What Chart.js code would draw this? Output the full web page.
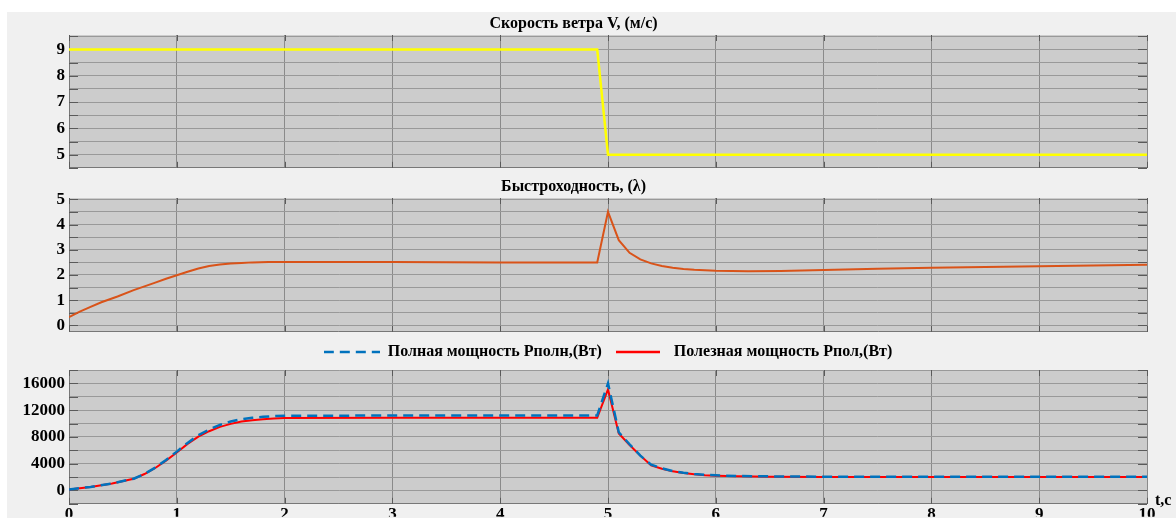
<!DOCTYPE html>
<html>
<head>
<meta charset="utf-8">
<script src="https://cdn.jsdelivr.net/npm/chart.js@4.4.1/dist/chart.umd.min.js"></script>
<style>
    body { margin: 0; background: #fff; width: 1176px; height: 518px; overflow: hidden; position: relative; }
    #panel { position: absolute; left: 7px; top: 12px; width: 1169px; height: 506px; background: #f0f0f0; }
    .box { position: absolute; left: 0; width: 1176px; }
</style>
</head>
<body>
<div id="panel"></div>
<div class="box" style="top:12px;height:170px"><canvas id="windChart"></canvas></div>
<div class="box" style="top:176px;height:170px"><canvas id="lambdaChart"></canvas></div>
<div class="box" style="top:336px;height:182px"><canvas id="powerChart"></canvas></div>
<script>
// ---------------- DATA ----------------
const timeTicks = [0, 1, 2, 3, 4, 5, 6, 7, 8, 9, 10];

// wind speed V, m/s
const windTime = [0, 4.9, 5.0, 10];
const windSpeed = [9, 9, 5, 5];
const windTicks = [4.5, 5, 5.5, 6, 6.5, 7, 7.5, 8, 8.5, 9, 9.5];

// tip speed ratio (lambda)
const lambdaTime = [0, 0.1, 0.2, 0.3, 0.45, 0.6, 0.8, 0.9, 1.0, 1.1, 1.2, 1.3, 1.4, 1.5, 1.6, 1.7, 1.85, 2.0, 3, 4, 4.9,
    5.0, 5.1, 5.2, 5.3, 5.4, 5.5, 5.6, 5.7, 5.8, 5.9, 6.0, 6.3, 6.6, 7.0, 7.5, 8, 8.5, 9, 9.5, 10];
const lambdaValue = [0.33, 0.55, 0.74, 0.92, 1.15, 1.4, 1.7, 1.85, 1.99, 2.13, 2.26, 2.36, 2.42, 2.46, 2.48, 2.5, 2.51, 2.51, 2.51, 2.5, 2.5,
    4.5, 3.38, 2.88, 2.62, 2.46, 2.36, 2.29, 2.24, 2.21, 2.19, 2.17, 2.15, 2.16, 2.2, 2.25, 2.29, 2.32, 2.35, 2.38, 2.41];
const lambdaTicks = [0, 0.5, 1, 1.5, 2, 2.5, 3, 3.5, 4, 4.5, 5];

// power, W
const powerTime = [0, 0.2, 0.4, 0.6, 0.7, 0.8, 0.9, 1.0, 1.1, 1.2, 1.3, 1.4, 1.5, 1.6, 1.7, 1.8, 1.9, 2.0, 3, 4, 4.9,
    5.0, 5.1, 5.2, 5.3, 5.4, 5.5, 5.6, 5.7, 5.8, 5.9, 6.0, 6.2, 6.5, 7, 8, 9, 10];
const powerFull = [150, 520, 1050, 1750, 2450, 3400, 4550, 5800, 7100, 8250, 9100, 9800, 10300, 10650, 10850, 11000, 11100, 11150, 11200, 11200, 11200,
    16000, 8700, 6900, 5200, 3850, 3300, 2900, 2650, 2450, 2330, 2250, 2150, 2100, 2050, 2050, 2050, 2050];
const powerUseful = [150, 520, 1050, 1730, 2450, 3350, 4450, 5670, 6950, 8050, 8850, 9500, 9950, 10300, 10500, 10650, 10750, 10830, 10850, 10850, 10850,
    15100, 8500, 6800, 5200, 3750, 3250, 2850, 2600, 2400, 2280, 2200, 2100, 2050, 2000, 2000, 2000, 2000];
const powerTicks = [-2000, 0, 2000, 4000, 6000, 8000, 10000, 12000, 14000, 16000, 18000];

const serif = "'Liberation Serif', 'Times New Roman', serif";

function points(xs, ys) {
    return xs.map((x, i) => ({ x: x, y: ys[i] }));
}

// small line pictures for the legend (dashed / solid)
function legendLine(color, width, lineWidth, dash) {
    const c = document.createElement("canvas");
    c.width = width;
    c.height = 4;
    const g = c.getContext("2d");
    g.strokeStyle = color;
    g.lineWidth = lineWidth;
    g.setLineDash(dash);
    g.beginPath();
    g.moveTo(0, 2);
    g.lineTo(width, 2);
    g.stroke();
    return c;
}

// ---------------- PLUGINS ----------------
const plotArea = {
    id: "plotArea",
    beforeDraw(chart) {
        const { ctx, chartArea: a } = chart;
        ctx.save();
        ctx.fillStyle = "#cccccc";
        ctx.fillRect(a.left, a.top, a.width, a.height);
        ctx.restore();
    },
    beforeDatasetsDraw(chart) {
        // inner tick marks like the matlab axes
        const { ctx, chartArea: a, scales } = chart;
        ctx.save();
        ctx.strokeStyle = "#5a5a5a";
        ctx.lineWidth = 1;
        ctx.beginPath();
        scales.y.ticks.forEach(t => {
            const y = Math.round(scales.y.getPixelForValue(t.value)) + 0.5;
            ctx.moveTo(a.left, y); ctx.lineTo(a.left + 9, y);
            ctx.moveTo(a.right - 9, y); ctx.lineTo(a.right, y);
        });
        scales.x.ticks.forEach(t => {
            const x = Math.round(scales.x.getPixelForValue(t.value)) + 0.5;
            ctx.moveTo(x, a.top); ctx.lineTo(x, a.top + 6);
            ctx.moveTo(x, a.bottom - 6); ctx.lineTo(x, a.bottom);
        });
        ctx.stroke();
        ctx.restore();
    }
};

const axisName = {
    id: "axisName",
    afterDraw(chart) {
        const { ctx, chartArea: a } = chart;
        ctx.save();
        ctx.font = "bold 16px " + serif;
        ctx.fillStyle = "#000";
        ctx.textBaseline = "middle";
        ctx.fillText("t,c", a.right + 8, a.bottom - 3);
        ctx.restore();
    }
};

// ---------------- OPTIONS ----------------
function makeOptions(cfg) {
    return {
        responsive: true,
        maintainAspectRatio: false,
        animation: false,
        layout: { padding: { left: 0, right: 29, top: 0, bottom: cfg.bottom } },
        plugins: {
            title: cfg.title ? {
                display: true,
                text: cfg.title,
                color: "#000",
                font: { family: serif, size: 16, weight: "bold" },
                padding: cfg.titlePad
            } : { display: false },
            legend: cfg.legend || { display: false },
            tooltip: { enabled: false }
        },
        scales: {
            x: {
                type: "linear",
                min: 0,
                max: 10,
                afterBuildTicks: s => { s.ticks = timeTicks.map(v => ({ value: v })); },
                afterFit: s => { s.height = cfg.xHeight; },
                grid: { color: "#8a8a8a", drawTicks: false },
                border: { color: "#777", width: 1 },
                ticks: {
                    display: cfg.showX,
                    autoSkip: false,
                    maxRotation: 0,
                    padding: 1,
                    color: "#000",
                    font: { family: serif, size: 17, weight: "bold" }
                }
            },
            y: {
                min: cfg.yMin,
                max: cfg.yMax,
                afterBuildTicks: s => { s.ticks = cfg.yTicks.map(v => ({ value: v })); },
                afterFit: s => { s.width = 69; },
                grid: { color: "#999999", drawTicks: false },
                border: { color: "#777", width: 1 },
                ticks: {
                    autoSkip: false,
                    padding: 4,
                    color: "#000",
                    font: { family: serif, size: 17, weight: "bold" },
                    callback: cfg.yLabel
                }
            }
        }
    };
}

// ---------------- WIND SPEED ----------------
new Chart(document.getElementById("windChart"), {
    type: "line",
    data: {
        datasets: [{
            label: "V",
            data: points(windTime, windSpeed),
            borderColor: "#ffff00",
            borderWidth: 2.5,
            pointRadius: 0,
            tension: 0
        }]
    },
    options: makeOptions({
        title: "Скорость ветра V, (м/с)",
        titlePad: { top: 2, bottom: 1.8 },
        bottom: 6,
        xHeight: 0,
        showX: false,
        yMin: 4.5,
        yMax: 9.55,
        yTicks: windTicks,
        yLabel: v => Number.isInteger(v) ? v : ""
    }),
    plugins: [plotArea]
});

// ---------------- LAMBDA ----------------
new Chart(document.getElementById("lambdaChart"), {
    type: "line",
    data: {
        datasets: [{
            label: "λ",
            data: points(lambdaTime, lambdaValue),
            borderColor: "#d95319",
            borderWidth: 2,
            pointRadius: 0,
            tension: 0
        }]
    },
    options: makeOptions({
        title: "Быстроходность, (λ)",
        titlePad: { top: 1.5, bottom: 1.3 },
        bottom: 6,
        xHeight: 0,
        showX: false,
        yMin: -0.25,
        yMax: 5.05,
        yTicks: lambdaTicks,
        yLabel: v => Number.isInteger(v) ? v : ""
    }),
    plugins: [plotArea]
});

// ---------------- POWER ----------------
const fullIcon = legendLine("#0072bd", 56, 2.5, [10, 6]);
const usefulIcon = legendLine("#ff0000", 44, 2.5, []);

new Chart(document.getElementById("powerChart"), {
    type: "line",
    data: {
        datasets: [{
            label: "Полная мощность Рполн,(Вт)",
            data: points(powerTime, powerFull),
            borderColor: "#0072bd",
            borderWidth: 2.5,
            borderDash: [10, 6],
            pointRadius: 0,
            tension: 0
        }, {
            label: "Полезная мощность Рпол,(Вт)",
            data: points(powerTime, powerUseful),
            borderColor: "#ff0000",
            borderWidth: 2,
            pointRadius: 0,
            tension: 0
        }]
    },
    options: makeOptions({
        legend: {
            display: true,
            fullSize: false,
            labels: {
                usePointStyle: true,
                pointStyleWidth: 56,
                padding: 8,
                color: "#000",
                font: { family: serif, size: 16, weight: "bold" },
                generateLabels: chart => {
                    const items = Chart.defaults.plugins.legend.labels.generateLabels(chart);
                    items[0].pointStyle = fullIcon;
                    items[1].pointStyle = usefulIcon;
                    return items;
                }
            }
        },
        bottom: 0,
        xHeight: 13,
        showX: true,
        yMin: -2000,
        yMax: 18000,
        yTicks: powerTicks,
        yLabel: v => (v >= 0 && v % 4000 === 0) ? v : ""
    }),
    plugins: [plotArea, axisName]
});
</script>
</body>
</html>
